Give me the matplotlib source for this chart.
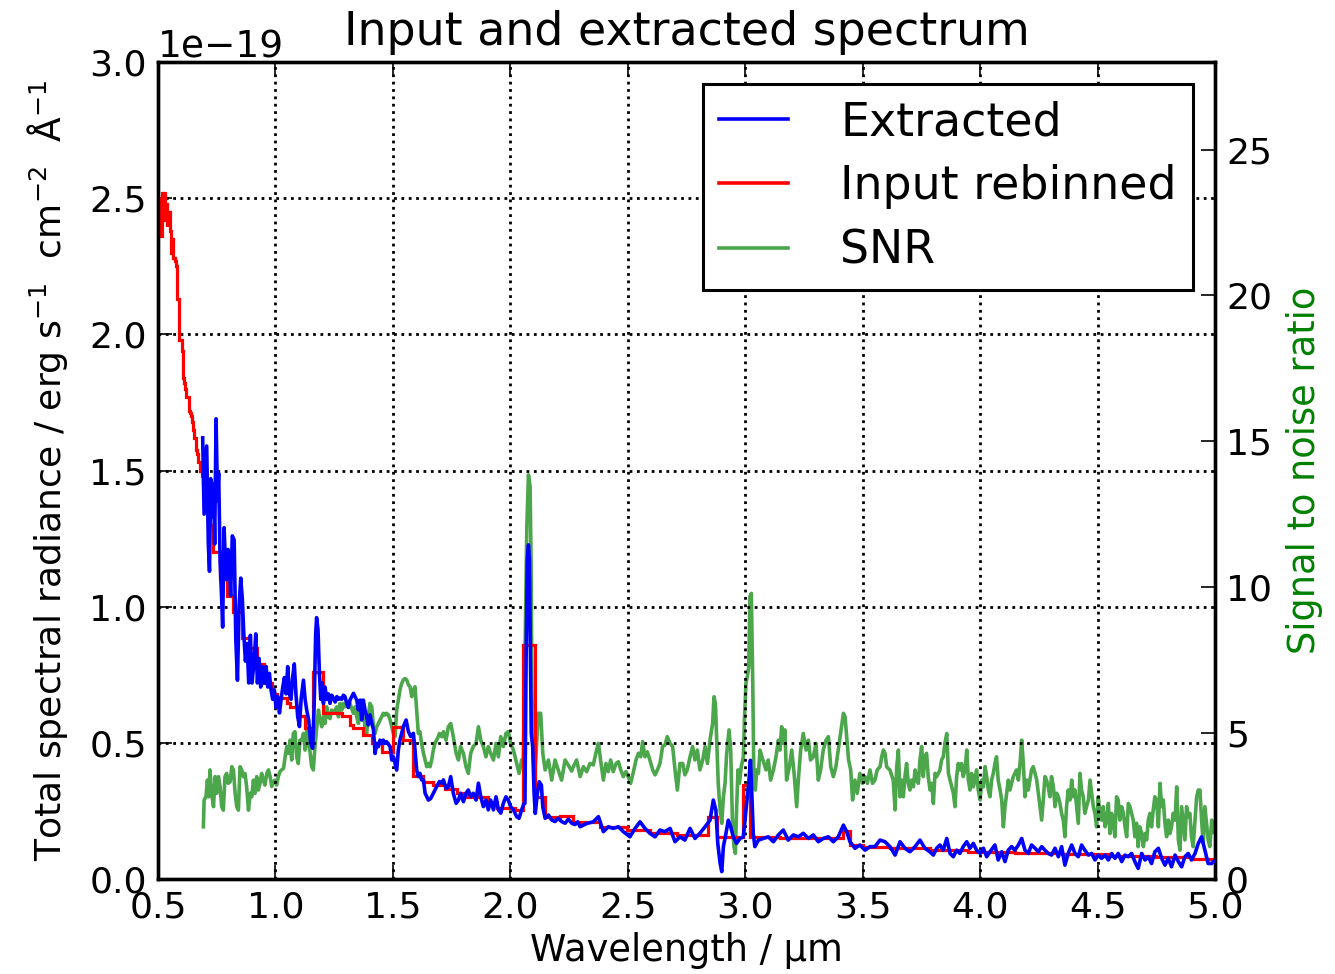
import matplotlib
matplotlib.use("Agg")
import matplotlib.pyplot as plt
from matplotlib.lines import Line2D
import numpy as np

# ---------------- data ----------------
# Input rebinned spectrum: lower bin edges [um] and values [1e-19 erg/s/cm2/A]
red_start = [0.500, 0.505, 0.510, 0.515, 0.520, 0.525, 0.530, 0.535, 0.540, 0.545,
             0.550, 0.555, 0.560, 0.565, 0.570, 0.575, 0.580, 0.585, 0.590, 0.595,
             0.600, 0.605, 0.610, 0.615, 0.620, 0.625, 0.630, 0.635, 0.640, 0.645,
             0.650, 0.655, 0.660, 0.665, 0.670, 0.675, 0.680, 0.685, 0.690,
             0.705, 0.720, 0.734, 0.764, 0.794, 0.819, 0.858, 0.892, 0.921, 0.951,
             0.985, 1.007, 1.049, 1.062, 1.092, 1.126, 1.160, 1.202, 1.283, 1.317,
             1.330, 1.373, 1.411, 1.454, 1.500, 1.543, 1.586, 1.628, 1.671, 1.722,
             1.773, 1.815, 1.905, 1.943, 2.020, 2.054, 2.105, 2.148, 2.211, 2.267,
             2.382, 2.497, 2.595, 2.709, 2.841, 2.880, 2.990, 3.020, 3.148, 3.416,
             3.446, 3.501, 3.616, 3.787, 3.950, 4.150, 4.350, 4.550, 4.750, 4.900]
red_end = 5.0
red_val = [2.38, 2.50, 2.36, 2.52, 2.46, 2.52, 2.42, 2.48, 2.40, 2.45,
           2.38, 2.30, 2.35, 2.28, 2.27, 2.25, 2.13, 2.13, 1.98, 1.98,
           1.94, 1.84, 1.82, 1.80, 1.77, 1.77, 1.72, 1.71, 1.70, 1.68,
           1.65, 1.62, 1.575, 1.56, 1.53, 1.53, 1.50, 1.48, 1.45,
           1.38, 1.30, 1.20, 1.10, 1.04, 0.98, 0.885, 0.85, 0.79, 0.72,
           0.68, 0.665, 0.645, 0.63, 0.60, 0.555, 0.76, 0.61, 0.60, 0.565,
           0.555, 0.53, 0.50, 0.465, 0.56, 0.51, 0.38, 0.355, 0.345, 0.33,
           0.315, 0.30, 0.283, 0.26, 0.253, 0.86, 0.30, 0.228, 0.23, 0.21,
           0.19, 0.18, 0.168, 0.16, 0.228, 0.155, 0.345, 0.155, 0.15, 0.175,
           0.125, 0.118, 0.113, 0.108, 0.100, 0.096, 0.091, 0.086, 0.080, 0.075]

# Extracted spectrum [um], [1e-19 erg/s/cm2/A]
ext_wl = [0.690, 0.696, 0.707, 0.714, 0.719, 0.724, 0.730, 0.736, 0.741, 0.747,
          0.753, 0.758, 0.764, 0.771, 0.775, 0.781, 0.787, 0.792, 0.798, 0.804,
          0.809, 0.816, 0.824, 0.831, 0.838, 0.845, 0.852, 0.859, 0.865, 0.872,
          0.879, 0.886, 0.893, 0.900, 0.909, 0.916, 0.923, 0.930, 0.937, 0.944,
          0.951, 0.960, 0.967, 0.974, 0.981, 0.988, 0.995, 1.002, 1.009, 1.017,
          1.024, 1.031, 1.038, 1.045, 1.052, 1.059, 1.066, 1.073, 1.080, 1.087,
          1.095, 1.102, 1.109, 1.119, 1.126, 1.133, 1.141, 1.150, 1.158, 1.164,
          1.171, 1.175, 1.181, 1.187, 1.193, 1.198, 1.204, 1.211, 1.218, 1.225,
          1.232, 1.239, 1.246, 1.254, 1.261, 1.268, 1.275, 1.282, 1.289, 1.296,
          1.303, 1.310,
          1.317, 1.332, 1.346, 1.353, 1.360, 1.367, 1.374, 1.381, 1.388, 1.395,
          1.402, 1.410, 1.417, 1.424, 1.431, 1.438, 1.445, 1.452, 1.459, 1.466,
          1.473, 1.488, 1.495, 1.502, 1.509, 1.516, 1.523,
          1.530, 1.544, 1.556, 1.566, 1.576, 1.587, 1.594, 1.601, 1.608, 1.615,
          1.622, 1.630, 1.637, 1.651, 1.661, 1.672, 1.686, 1.698, 1.708, 1.715,
          1.726, 1.736, 1.746, 1.757, 1.769, 1.779, 1.788, 1.800, 1.811, 1.821,
          1.831, 1.842, 1.854, 1.864, 1.874, 1.885, 1.896, 1.906, 1.916, 1.928,
          1.939, 1.949, 1.959, 1.970, 1.981, 1.991, 2.001, 2.013, 2.027, 2.037,
          2.048, 2.058,
          2.062, 2.067, 2.072, 2.077, 2.081, 2.085, 2.089, 2.095, 2.101, 2.106,
          2.115, 2.123, 2.132, 2.138, 2.148,
          2.162, 2.176, 2.190, 2.204, 2.218, 2.233, 2.247, 2.261, 2.275, 2.287,
          2.297, 2.325, 2.353, 2.375, 2.396, 2.417, 2.438, 2.460, 2.481, 2.509,
          2.531, 2.552, 2.573, 2.594, 2.616, 2.637, 2.658, 2.680, 2.701, 2.722,
          2.743, 2.765, 2.786, 2.807, 2.829, 2.850, 2.864, 2.875, 2.883, 2.893,
          2.900, 2.907, 2.918, 2.928, 2.938, 2.949, 2.963, 2.978, 2.992, 3.006,
          3.015, 3.022, 3.029, 3.034, 3.041, 3.056, 3.077, 3.098, 3.120, 3.141,
          3.162, 3.183, 3.205, 3.226, 3.247, 3.269, 3.290, 3.311, 3.332, 3.354,
          3.375, 3.396, 3.418, 3.432, 3.446, 3.467, 3.488, 3.510, 3.531, 3.552,
          3.574, 3.595, 3.616, 3.638, 3.659, 3.680, 3.701, 3.723, 3.744, 3.765,
          3.786,
          3.801, 3.815, 3.829, 3.843, 3.858, 3.872, 3.886, 3.900, 3.914, 3.928,
          3.943, 3.957, 3.971, 3.985, 4.000, 4.014, 4.028, 4.042, 4.063, 4.077,
          4.092, 4.106, 4.120, 4.134, 4.148, 4.163, 4.177, 4.191, 4.205, 4.219,
          4.234, 4.248, 4.262, 4.276, 4.290, 4.304, 4.319, 4.333, 4.347, 4.361,
          4.375, 4.390, 4.404, 4.418, 4.432, 4.446, 4.461, 4.475, 4.489, 4.503,
          4.517, 4.532, 4.546, 4.560, 4.574, 4.588, 4.603, 4.617, 4.631, 4.645,
          4.659, 4.673, 4.688, 4.702, 4.716, 4.730, 4.744, 4.759, 4.773, 4.787,
          4.801, 4.815, 4.830, 4.844, 4.858, 4.872, 4.886, 4.900, 4.915, 4.929,
          4.943, 4.957, 4.971, 4.986, 4.995]
ext_val = [1.62, 1.34, 1.59, 1.23, 1.13, 1.47, 1.33, 1.45, 1.23, 1.69,
           1.39, 1.49, 1.17, 1.025, 0.925, 1.29, 1.16, 1.10, 1.21, 1.15,
           1.04, 1.26, 1.245, 0.88, 0.73, 1.00, 1.105, 1.025, 0.90, 0.80,
           0.865, 0.72, 0.895, 0.72, 0.80, 0.90, 0.72, 0.81, 0.705, 0.78,
           0.72, 0.78, 0.705, 0.755, 0.695, 0.66, 0.695, 0.63, 0.67, 0.61,
           0.66, 0.705, 0.74, 0.68, 0.78, 0.68, 0.66, 0.74, 0.79, 0.68,
           0.595, 0.56, 0.66, 0.73, 0.66, 0.62, 0.585, 0.50, 0.48, 0.62,
           0.90, 0.96, 0.915, 0.755, 0.66, 0.72, 0.645, 0.705, 0.66, 0.68,
           0.645, 0.675, 0.665, 0.65, 0.67, 0.66, 0.665, 0.66, 0.675, 0.67,
           0.645, 0.63,
           0.657, 0.682, 0.657, 0.621, 0.657, 0.584, 0.657, 0.621, 0.597, 0.566,
           0.603, 0.572, 0.548, 0.461, 0.498, 0.486, 0.510, 0.498, 0.510, 0.498,
           0.504, 0.486, 0.437, 0.449, 0.425, 0.400, 0.474,
           0.511, 0.559, 0.584, 0.541, 0.523, 0.535, 0.474, 0.401, 0.376, 0.388,
           0.364, 0.364, 0.315, 0.290, 0.296, 0.315, 0.339, 0.358, 0.352, 0.364,
           0.333, 0.339, 0.376, 0.315, 0.278, 0.290, 0.315, 0.284, 0.315, 0.327,
           0.302, 0.315, 0.290, 0.352, 0.302, 0.266, 0.290, 0.254, 0.290, 0.254,
           0.302, 0.254, 0.242, 0.278, 0.302, 0.290, 0.266, 0.254, 0.229, 0.223,
           0.254, 0.278,
           0.278, 0.804, 1.172, 1.227, 1.172, 0.853, 0.535, 0.486, 0.315, 0.241,
           0.315, 0.357, 0.345, 0.265, 0.223,
           0.235, 0.217, 0.211, 0.223, 0.211, 0.205, 0.220, 0.205, 0.200, 0.210,
           0.192, 0.204, 0.210, 0.229, 0.174, 0.192, 0.186, 0.192, 0.174, 0.155,
           0.186, 0.210, 0.186, 0.168, 0.155, 0.180, 0.174, 0.186, 0.137, 0.155,
           0.143, 0.186, 0.149, 0.168, 0.192, 0.216, 0.290, 0.253, 0.131, 0.058,
           0.027, 0.119, 0.168, 0.216, 0.192, 0.155, 0.131, 0.149, 0.155, 0.278,
           0.351, 0.436, 0.290, 0.168, 0.119, 0.143, 0.149, 0.155, 0.137, 0.162,
           0.180, 0.143, 0.162, 0.155, 0.168, 0.149, 0.162, 0.137, 0.149, 0.155,
           0.137, 0.155, 0.198, 0.174, 0.137, 0.113, 0.125, 0.106, 0.119, 0.119,
           0.143, 0.137, 0.119, 0.088, 0.137, 0.113, 0.100, 0.119, 0.143, 0.113,
           0.100,
           0.088, 0.113, 0.125, 0.106, 0.149, 0.094, 0.082, 0.106, 0.094, 0.119,
           0.137, 0.113, 0.131, 0.106, 0.094, 0.113, 0.082, 0.100, 0.125, 0.070,
           0.100, 0.064, 0.106, 0.119, 0.106, 0.125, 0.149, 0.106, 0.094, 0.125,
           0.113, 0.100, 0.119, 0.106, 0.094, 0.088, 0.113, 0.082, 0.119, 0.051,
           0.094, 0.125, 0.094, 0.082, 0.125, 0.106, 0.088, 0.094, 0.070, 0.088,
           0.076, 0.088, 0.070, 0.094, 0.076, 0.094, 0.064, 0.088, 0.082, 0.094,
           0.064, 0.039, 0.094, 0.070, 0.082, 0.057, 0.100, 0.113, 0.076, 0.051,
           0.076, 0.045, 0.088, 0.064, 0.045, 0.082, 0.094, 0.070, 0.094, 0.131,
           0.155, 0.106, 0.057, 0.057, 0.065]

# Signal to noise ratio
snr_wl = [0.693, 0.696, 0.704, 0.710, 0.716, 0.721, 0.728, 0.736, 0.743, 0.750,
          0.757, 0.764, 0.771, 0.778, 0.785, 0.792, 0.799, 0.807, 0.814, 0.821,
          0.828, 0.835, 0.842, 0.849, 0.856, 0.863, 0.870, 0.877, 0.885, 0.892,
          0.899, 0.906, 0.913, 0.920, 0.927, 0.934, 0.941, 0.948, 0.955, 0.963,
          0.970, 0.977, 0.984, 0.991, 0.998, 1.005, 1.012, 1.019, 1.026, 1.034,
          1.041, 1.048, 1.055, 1.062, 1.069, 1.076, 1.083, 1.090, 1.097, 1.104,
          1.112, 1.119, 1.126, 1.133, 1.140, 1.147, 1.154, 1.161, 1.168, 1.175,
          1.183, 1.190, 1.197, 1.204, 1.211, 1.218, 1.225, 1.232, 1.239, 1.246,
          1.261, 1.268, 1.275, 1.282, 1.289, 1.296, 1.303, 1.310, 1.317, 1.324,
          1.332, 1.339, 1.346, 1.353, 1.360, 1.367, 1.374, 1.381, 1.388, 1.395,
          1.402, 1.410, 1.417, 1.424, 1.431, 1.438, 1.445, 1.452, 1.459, 1.466,
          1.473, 1.481, 1.488, 1.495, 1.502, 1.509, 1.516, 1.523, 1.530, 1.537,
          1.544, 1.551, 1.559, 1.566, 1.573, 1.580, 1.587, 1.594, 1.601, 1.608,
          1.615, 1.622, 1.630, 1.637, 1.644, 1.651, 1.658, 1.665, 1.672, 1.679,
          1.686, 1.693,
          1.698, 1.708, 1.715, 1.726, 1.736, 1.746, 1.757, 1.769, 1.779, 1.788,
          1.800, 1.811, 1.821, 1.831, 1.842, 1.854, 1.864, 1.874, 1.885, 1.896,
          1.906, 1.916, 1.928, 1.939, 1.949, 1.959, 1.970, 1.981, 1.991, 2.001,
          2.013, 2.027, 2.037, 2.048,
          2.055, 2.062, 2.070, 2.077, 2.084, 2.088, 2.092, 2.098, 2.105, 2.112,
          2.119, 2.129, 2.138, 2.148, 2.162, 2.176, 2.190, 2.204, 2.218, 2.233,
          2.247, 2.261, 2.268, 2.282,
          2.297, 2.311, 2.325, 2.339, 2.353, 2.367, 2.375, 2.384, 2.396, 2.407,
          2.417, 2.427, 2.438, 2.450, 2.460, 2.470, 2.481, 2.492, 2.502, 2.512,
          2.524, 2.535, 2.545, 2.555, 2.563, 2.573, 2.583, 2.594, 2.606, 2.616,
          2.626, 2.637, 2.648, 2.658, 2.668, 2.680, 2.691, 2.701, 2.711, 2.722,
          2.734, 2.743, 2.753, 2.765, 2.776, 2.786, 2.796, 2.807, 2.819, 2.829,
          2.839, 2.850, 2.861, 2.867, 2.873, 2.878, 2.885, 2.893, 2.900, 2.907,
          2.914, 2.921, 2.931, 2.938, 2.945, 2.952, 2.958, 2.963, 2.969, 2.975,
          2.983, 2.992, 2.997, 3.003, 3.009, 3.015, 3.020, 3.026, 3.032, 3.037,
          3.043, 3.049, 3.056, 3.063, 3.071, 3.080, 3.088, 3.098, 3.108, 3.120,
          3.131, 3.141, 3.148, 3.155, 3.162, 3.169, 3.176, 3.188, 3.198, 3.208,
          3.219, 3.226, 3.236, 3.247, 3.259, 3.269, 3.278, 3.290, 3.301, 3.311,
          3.321, 3.332, 3.344, 3.354, 3.364, 3.375, 3.386, 3.396, 3.406, 3.418,
          3.425, 3.432, 3.440, 3.449, 3.457, 3.467, 3.477, 3.488, 3.500, 3.510,
          3.520, 3.531, 3.542, 3.552, 3.562,
          3.574, 3.581, 3.588, 3.595, 3.602, 3.609, 3.616, 3.623, 3.630, 3.638,
          3.645, 3.652, 3.659, 3.666, 3.673, 3.680, 3.687, 3.694, 3.701, 3.708,
          3.716, 3.723, 3.730, 3.737, 3.744, 3.751, 3.758, 3.765, 3.772, 3.779,
          3.787, 3.794, 3.801, 3.808, 3.815, 3.822, 3.829, 3.836, 3.843, 3.850,
          3.858, 3.865, 3.872, 3.879, 3.886, 3.893, 3.900, 3.907, 3.914, 3.921,
          3.928, 3.936, 3.943, 3.950, 3.957, 3.964, 3.971, 3.978, 3.985, 3.992,
          4.000, 4.007, 4.014, 4.021, 4.028, 4.035, 4.042, 4.049, 4.056, 4.063,
          4.070, 4.077, 4.085, 4.092, 4.099, 4.106, 4.113, 4.120, 4.127, 4.134,
          4.141, 4.148, 4.155, 4.163, 4.170, 4.177, 4.184, 4.191, 4.198, 4.205,
          4.212, 4.219, 4.226, 4.234, 4.241, 4.248, 4.255, 4.262, 4.269, 4.276,
          4.283, 4.290, 4.297, 4.304, 4.312, 4.319, 4.326, 4.333, 4.340, 4.347,
          4.354, 4.361, 4.368, 4.375, 4.383, 4.390, 4.397, 4.404, 4.411, 4.418,
          4.425, 4.432, 4.439, 4.446, 4.453, 4.461, 4.468, 4.475, 4.482, 4.489,
          4.496, 4.503, 4.510, 4.517, 4.524, 4.532, 4.539, 4.546, 4.553, 4.560,
          4.567, 4.574, 4.581, 4.588, 4.595, 4.603, 4.610, 4.617, 4.624, 4.631,
          4.638, 4.645, 4.652, 4.659, 4.666, 4.673, 4.680, 4.688, 4.695, 4.702,
          4.709, 4.716, 4.723, 4.730, 4.737, 4.744, 4.751, 4.759, 4.766, 4.773,
          4.780, 4.787, 4.794, 4.801, 4.808, 4.815, 4.822, 4.830, 4.837, 4.844,
          4.851, 4.858, 4.865, 4.872, 4.879, 4.886, 4.893, 4.900, 4.907, 4.915,
          4.922, 4.929, 4.936, 4.943, 4.950, 4.957, 4.964, 4.971, 4.978, 4.986,
          4.995]
snr_val = [1.79, 2.71, 2.82, 3.39, 2.82, 3.74, 2.94, 2.48, 3.51, 2.94,
           3.51, 3.17, 2.48, 2.36, 3.51, 3.62, 3.28, 3.34, 3.85, 3.74,
           2.94, 2.48, 2.36, 3.85, 3.74, 3.51, 3.62, 3.17, 2.36, 2.94,
           2.82, 3.39, 2.94, 3.51, 3.05, 3.28, 3.62, 3.39, 3.22, 3.62,
           3.74, 3.51, 3.17, 3.34, 3.39, 3.22, 3.51, 3.68, 3.74, 3.79,
           4.19, 4.54, 4.31, 4.76, 4.08, 4.99, 5.05, 4.19, 3.96, 4.76,
           4.76, 4.99, 4.42, 5.10, 4.65, 4.36, 3.85, 3.74, 4.54, 5.16,
           5.79, 5.45, 5.22, 5.56, 5.33, 5.90, 5.56, 5.50, 5.79, 5.68,
           5.90, 5.56, 6.02, 5.79, 6.02, 5.90, 5.96, 5.90, 6.02, 5.85,
           5.68, 5.90, 5.56, 5.33, 5.90, 6.13, 5.79, 5.22, 4.99, 5.56,
           6.02, 5.90, 5.22, 4.99, 5.22, 5.33, 5.45, 5.56, 5.68, 5.62,
           5.68, 5.62, 5.45, 5.22, 4.99, 4.88, 5.79, 6.13, 6.48, 6.70,
           6.82, 6.87, 6.82, 6.65, 6.59, 6.25, 6.48, 6.59, 5.79, 4.99,
           5.05, 4.65, 4.31, 4.08, 3.85, 3.96, 3.85, 4.08, 4.42, 4.65,
           4.76, 4.88,
           4.99, 4.88, 5.05, 4.76, 5.22, 5.33, 4.88, 4.31, 4.08, 4.54,
           4.31, 3.85, 3.62, 4.31, 4.54, 4.65, 5.22, 4.76, 4.54, 4.19,
           4.54, 4.31, 4.08, 4.65, 4.19, 4.88, 4.54, 4.99, 5.05, 4.65,
           4.42, 3.96, 3.62, 4.08,
           4.08, 7.50, 12.07, 13.85, 13.45, 10.93, 6.37, 4.08, 3.74, 4.65,
           5.68, 5.68, 4.31, 3.74, 4.08, 3.39, 4.08, 3.74, 3.39, 4.08,
           3.90, 3.70, 3.85, 4.08,
           3.51, 3.85, 3.68, 3.96, 3.91, 4.42, 4.65, 4.08, 3.39, 3.96,
           3.68, 4.08, 3.68, 3.96, 4.02, 3.74, 3.51, 3.68, 3.51, 3.28,
           3.68, 4.08, 4.31, 4.19, 4.71, 4.19, 4.36, 4.08, 3.74, 3.57,
           3.74, 3.96, 4.54, 4.59, 4.88, 4.65, 4.54, 3.74, 3.05, 3.96,
           3.96, 3.57, 3.74, 4.19, 4.54, 4.08, 4.42, 3.74, 4.08, 4.54,
           3.96, 4.76, 5.33, 6.25, 6.02, 4.88, 3.28, 2.36, 1.91, 2.82,
           3.28, 4.31, 5.11, 4.42, 2.14, 1.11, 0.88, 2.36, 3.74, 3.28,
           3.85, 4.19, 5.56, 6.71, 6.94, 7.28, 9.68, 9.79, 6.71, 3.28,
           3.05, 3.74, 3.62, 4.42, 4.19, 3.96, 3.74, 4.08, 3.39, 3.74,
           4.19, 4.76, 4.42, 5.22, 4.65, 5.11, 3.39, 3.85, 4.42, 3.62,
           2.48, 3.39, 4.42, 4.99, 4.42, 4.76, 4.08, 4.19, 4.65, 3.39,
           3.74, 4.42, 4.76, 4.88, 3.85, 3.51, 3.85, 4.42, 4.99, 5.68,
           5.56, 4.88, 4.08, 3.74, 2.71, 3.39, 2.94, 3.62, 3.28, 3.51,
           3.28, 3.74, 3.28, 3.39, 3.74,
           3.85, 4.19, 4.42, 4.31, 3.85, 3.79, 3.74, 3.56, 3.39, 2.37,
           3.85, 4.42, 2.82, 3.39, 2.82, 3.51, 3.96, 3.28, 3.05, 3.39,
           3.16, 3.74, 3.39, 3.28, 4.08, 4.54, 3.51, 4.19, 4.31, 3.51,
           3.05, 3.28, 2.59, 3.62, 3.51, 3.62, 3.74, 4.08, 4.19, 4.65,
           4.99, 3.62, 3.39, 3.16, 2.94, 2.48, 3.51, 3.96, 3.74, 3.96,
           3.51, 3.74, 4.42, 3.39, 3.05, 3.62, 3.16, 3.39, 3.74, 3.05,
           2.71, 3.39, 3.16, 3.85, 3.51, 3.05, 2.82, 3.39, 3.62, 3.96,
           4.19, 3.39, 3.05, 2.71, 1.79, 2.48, 2.94, 3.39, 3.05, 3.28,
           3.51, 3.62, 3.74, 3.39, 3.96, 4.76, 3.96, 2.82, 3.39, 3.05,
           3.39, 3.74, 3.85, 3.62, 3.39, 2.94, 2.48, 2.02, 2.71, 3.51,
           3.39, 3.16, 2.82, 3.51, 3.16, 2.48, 2.94, 2.82, 2.59, 2.25,
           2.02, 1.45, 2.48, 3.05, 2.71, 3.39, 2.82, 3.05, 2.48, 1.91,
           3.62, 3.05, 2.82, 2.25, 2.48, 2.71, 3.39, 2.94, 2.48, 2.25,
           1.79, 2.82, 2.25, 2.02, 2.48, 1.79, 2.02, 2.59, 1.56, 2.25,
           1.91, 1.45, 2.82, 2.71, 2.02, 2.48, 2.25, 1.79, 1.45, 2.59,
           2.48, 2.25, 2.02, 1.45, 1.91, 1.11, 1.79, 1.56, 1.11, 1.56,
           1.34, 2.02, 2.25, 1.79, 2.37, 2.82, 2.71, 1.79, 3.28, 2.48,
           2.71, 1.91, 1.45, 2.02, 1.56, 1.79, 2.25, 2.02, 3.16, 1.34,
           0.99, 2.48, 1.91, 1.34, 2.48, 2.14, 2.25, 1.45, 1.11, 2.02,
           2.82, 3.05, 3.05, 2.02, 1.22, 2.48, 1.91, 1.34, 1.11, 2.02,
           1.60]

SCALE = 1e-19
x_ticks = [0.5, 1.0, 1.5, 2.0, 2.5, 3.0, 3.5, 4.0, 4.5, 5.0]
y_ticks = [0.0, 0.5, 1.0, 1.5, 2.0, 2.5, 3.0]
snr_ticks = [0, 5, 10, 15, 20, 25]
legend_labels = ['Extracted', 'Input rebinned', 'SNR']

# ---------------- figure ----------------
plt.rcParams['font.family'] = ['DejaVu Sans']
plt.rcParams['xtick.direction'] = 'in'
plt.rcParams['ytick.direction'] = 'in'
plt.rcParams['xtick.top'] = True

LW = 2.6
fig = plt.figure(figsize=(13.35, 9.74), dpi=100)
ax = fig.add_axes([0.1184, 0.0975, 0.7917, 0.8388])
ax2 = ax.twinx()

edges = red_start + [red_end]
ax.stairs(np.array(red_val) * SCALE, edges, baseline=None, color='r',
          lw=LW - 0.3, zorder=2)
ax.plot(ext_wl, np.array(ext_val) * SCALE, color='b', lw=LW, zorder=3)
ax2.plot(snr_wl, snr_val, color='g', alpha=0.7, lw=LW)

ax.set_zorder(ax2.get_zorder() + 1)
ax.patch.set_visible(False)

ax.set_xlim(0.5, 5.0)
ax.set_ylim(0, 3.0 * SCALE)
ax2.set_ylim(0, 28)
ax.set_xticks(x_ticks)
ax.set_yticks([v * SCALE for v in y_ticks])
ax2.set_yticks(snr_ticks)

ax.grid(True, color='k', linestyle=':', lw=2.0)

for a in (ax, ax2):
    for s in a.spines.values():
        s.set_linewidth(2.4)
ax.tick_params(axis='both', which='major', labelsize=26, length=10, width=1.2, pad=8)
ax2.tick_params(axis='y', which='major', labelsize=26, length=10, width=1.2, pad=8)
ax.yaxis.get_offset_text().set_fontsize(27)

ax.set_title('Input and extracted spectrum', fontsize=33, pad=12)
ax.set_xlabel('Wavelength / μm', fontsize=26.5, labelpad=6)
ax.set_ylabel(r'Total spectral radiance / erg s$^{-1}$  cm$^{-2}$  Å$^{-1}$',
              fontsize=26, labelpad=14)
ax2.set_ylabel('Signal to noise ratio', color='g', fontsize=26.5, labelpad=10)

handles = [Line2D([], [], color='b', lw=LW), Line2D([], [], color='r', lw=LW),
           Line2D([], [], color='g', alpha=0.7, lw=LW)]
leg = ax.legend(handles, legend_labels, loc='upper right', fontsize=33, fancybox=False,
                framealpha=1, edgecolor='k', handlelength=1.5, handletextpad=1.15,
                borderpad=0.35, labelspacing=0.42, borderaxespad=0.48)
leg.get_frame().set_linewidth(2.2)

fig.savefig('out.png', dpi=100)
